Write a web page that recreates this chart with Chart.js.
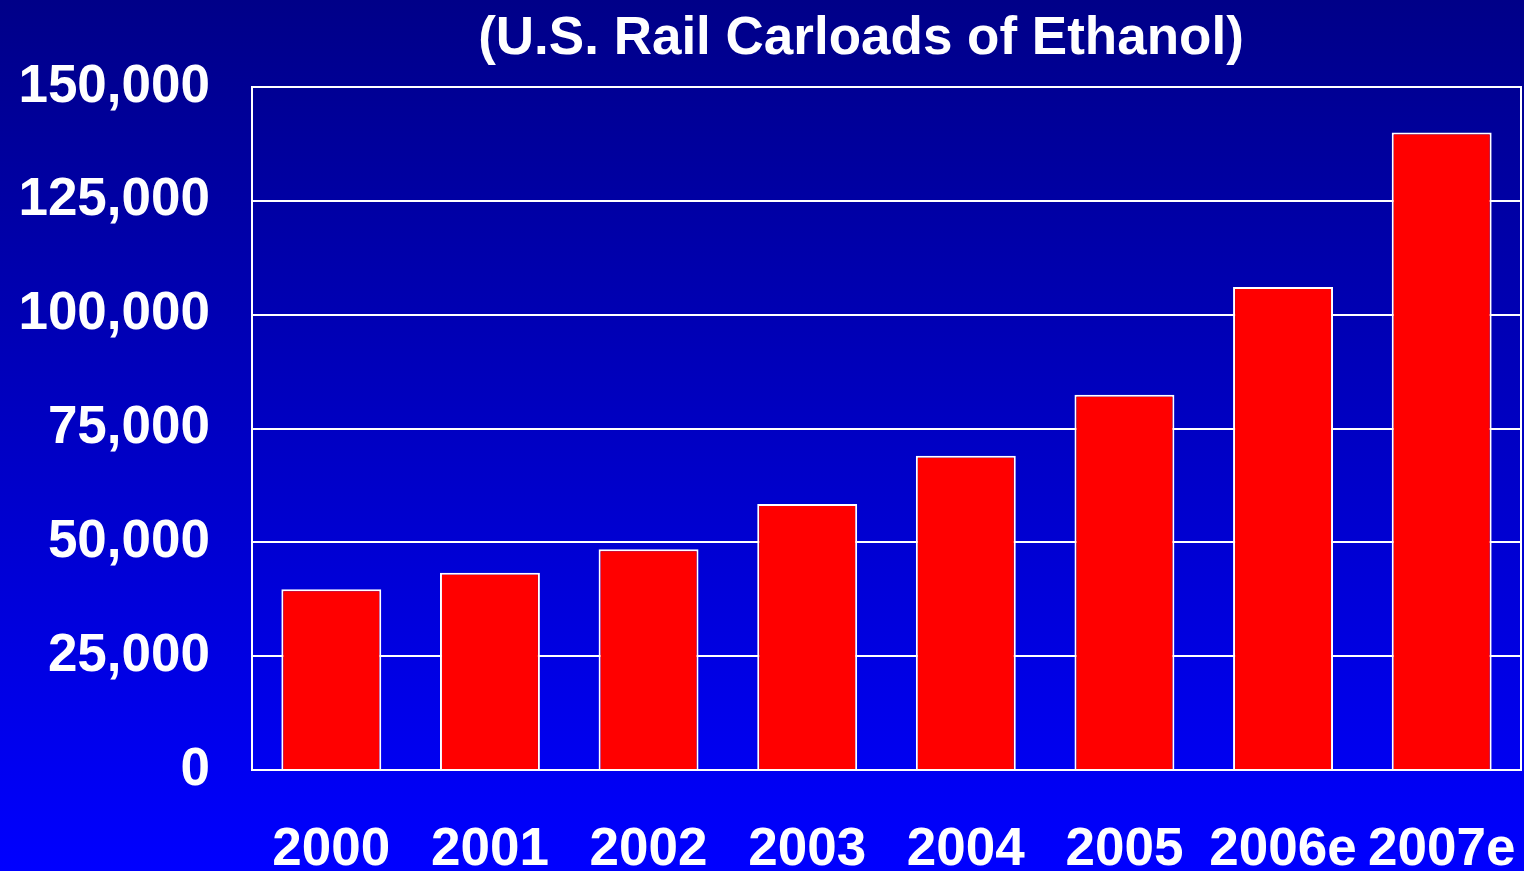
<!DOCTYPE html>
<html>
<head>
<meta charset="utf-8">
<style>
  html, body { margin: 0; padding: 0; background: #0000ff; }
  #wrap { width: 1524px; height: 871px; }
  canvas { display: block; }
</style>
<script src="https://cdn.jsdelivr.net/npm/chart.js@4/dist/chart.umd.min.js"></script>
</head>
<body>
<div id="wrap"><canvas id="c" width="1524" height="871"></canvas></div>
<script>
// Annual U.S. rail carloads of ethanol (e = estimate)
const years = ['2000', '2001', '2002', '2003', '2004', '2005', '2006e', '2007e'];
const carloads = [39700, 43300, 48500, 58400, 69000, 82400, 106100, 140000];
const yTicks = [0, 25000, 50000, 75000, 100000, 125000, 150000];
const titleText = '(U.S. Rail Carloads of Ethanol)';

const FONT = '"Liberation Sans", Arial, Helvetica, sans-serif';

// Blue gradient backdrop behind the whole chart
const backdrop = {
  id: 'backdrop',
  beforeDraw(chart) {
    const { ctx, width, height } = chart;
    const g = ctx.createLinearGradient(0, 0, 0, height);
    g.addColorStop(0, '#000088');
    g.addColorStop(1, '#0000ff');
    ctx.save();
    ctx.fillStyle = g;
    ctx.fillRect(0, 0, width, height);
    ctx.restore();
  }
};

// White frame round the plot area, plus the heading
const frameAndHeading = {
  id: 'frameAndHeading',
  afterDraw(chart) {
    const { ctx, chartArea: a } = chart;
    ctx.save();
    ctx.strokeStyle = '#ffffff';
    ctx.lineWidth = 2;
    ctx.strokeRect(a.left, a.top, a.right - a.left, a.bottom - a.top);
    ctx.fillStyle = '#ffffff';
    ctx.font = 'bold 53px ' + FONT;
    ctx.textAlign = 'center';
    ctx.textBaseline = 'middle';
    ctx.fillText(titleText, 861, 39);
    ctx.restore();
  }
};

new Chart(document.getElementById('c'), {
  type: 'bar',
  data: {
    labels: years,
    datasets: [{
      data: carloads,
      backgroundColor: '#ff0000',
      borderColor: '#ffffff',
      borderWidth: 2,
      barPercentage: 0.63,
      categoryPercentage: 1.0
    }]
  },
  options: {
    responsive: false,
    animation: false,
    layout: { padding: { top: 87, left: 0, right: 3, bottom: 0 } },
    plugins: {
      legend: { display: false },
      title: { display: false },
      tooltip: { enabled: false }
    },
    scales: {
      x: {
        grid: { display: false, drawTicks: false },
        border: { display: false },
        ticks: {
          color: '#ffffff',
          font: { family: FONT, size: 53, weight: 'bold' },
          padding: 49,
          maxRotation: 0,
          autoSkip: false
        },
        afterFit(scale) {
          scale.height = 101;
          scale.paddingLeft = 0;
          scale.paddingRight = 0;
        }
      },
      y: {
        min: 0,
        max: 150000,
        afterBuildTicks(scale) { scale.ticks = yTicks.map(v => ({ value: v })); },
        grid: { color: '#ffffff', lineWidth: 2, drawTicks: false },
        border: { display: false },
        ticks: {
          color: '#ffffff',
          font: { family: FONT, size: 53, weight: 'bold' },
          padding: 42,
          callback: v => Number(v).toLocaleString('en-US')
        },
        afterFit(scale) { scale.width = 252; }
      }
    }
  },
  plugins: [backdrop, frameAndHeading]
});
</script>
</body>
</html>
